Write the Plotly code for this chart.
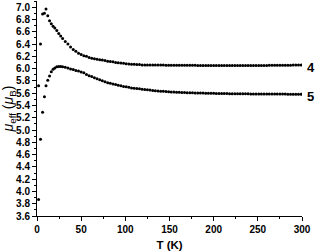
import plotly.graph_objects as go

T = [1.8, 4.0, 6.3, 8.4, 10.2, 12.2, 14.2, 16.2, 18.2, 20.2, 22.4, 24.6, 26.8, 29.0,
     32, 35, 38, 41, 44, 47, 50, 53, 56, 59, 62, 65, 68, 71, 74, 77, 80, 83, 86, 89,
     92, 95, 98, 101, 104, 107, 110, 113, 116, 119, 122, 125, 128, 131, 134, 137, 140,
     143, 146, 149, 152, 155, 158, 161, 164, 167, 170, 173, 176, 179, 182, 185, 188,
     191, 194, 197, 200, 203, 206, 209, 212, 215, 218, 221, 224, 227, 230, 233, 236,
     239, 242, 245, 248, 251, 254, 257, 260, 263, 266, 269, 272, 275, 278, 281, 284,
     287, 290, 293, 296, 299]

mu_4 = [5.72, 6.40, 6.89, 6.90, 6.97, 6.86, 6.78, 6.73, 6.69, 6.66, 6.62, 6.57, 6.53, 6.49,
        6.44, 6.40, 6.35, 6.31, 6.28, 6.25, 6.23, 6.21, 6.20, 6.18, 6.17, 6.16, 6.15, 6.145,
        6.14, 6.13, 6.12, 6.115, 6.11, 6.10, 6.095, 6.09, 6.085, 6.08, 6.075, 6.07, 6.07,
        6.065, 6.065, 6.06, 6.06, 6.06, 6.06, 6.058, 6.058, 6.058, 6.057, 6.057, 6.056,
        6.056, 6.056, 6.055, 6.055, 6.055, 6.054, 6.054, 6.054, 6.053, 6.053, 6.053, 6.052,
        6.052, 6.052, 6.051, 6.051, 6.051, 6.050, 6.050, 6.050, 6.050, 6.050, 6.050, 6.050,
        6.050, 6.050, 6.050, 6.050, 6.050, 6.050, 6.050, 6.050, 6.051, 6.051, 6.051, 6.052,
        6.052, 6.052, 6.053, 6.053, 6.053, 6.054, 6.054, 6.055, 6.055, 6.056, 6.056, 6.057,
        6.057, 6.058, 6.058]

mu_5 = [3.87, 4.85, 5.29, 5.54, 5.72, 5.81, 5.88, 5.95, 5.99, 6.01, 6.03, 6.035, 6.035, 6.03,
        6.02, 6.01, 5.995, 5.985, 5.97, 5.96, 5.945, 5.93, 5.905, 5.885, 5.87, 5.85, 5.835,
        5.82, 5.80, 5.785, 5.77, 5.76, 5.75, 5.74, 5.73, 5.72, 5.71, 5.705, 5.695, 5.685,
        5.68, 5.675, 5.67, 5.665, 5.66, 5.655, 5.65, 5.645, 5.64, 5.636, 5.632, 5.629,
        5.626, 5.623, 5.62, 5.618, 5.616, 5.614, 5.612, 5.61, 5.608, 5.606, 5.605, 5.604,
        5.603, 5.602, 5.601, 5.600, 5.599, 5.598, 5.597, 5.596, 5.595, 5.594, 5.594, 5.593,
        5.592, 5.592, 5.591, 5.591, 5.590, 5.590, 5.589, 5.589, 5.588, 5.588, 5.588, 5.587,
        5.587, 5.587, 5.586, 5.586, 5.586, 5.586, 5.585, 5.585, 5.585, 5.585, 5.584, 5.584,
        5.584, 5.584, 5.584, 5.584]

series_labels = ["4", "5"]

x_ticks = [0, 50, 100, 150, 200, 250, 300]
y_ticks = [3.6, 3.8, 4.0, 4.2, 4.4, 4.6, 4.8, 5.0, 5.2, 5.4, 5.6, 5.8, 6.0, 6.2, 6.4, 6.6, 6.8, 7.0]

FONT = "Liberation Sans, Arial, sans-serif"

fig = go.Figure()
for mu in (mu_4, mu_5):
    fig.add_trace(go.Scatter(
        x=T, y=mu, mode="markers",
        marker=dict(color="black", size=3, line=dict(width=0)),
        showlegend=False, hoverinfo="skip",
    ))

for lab, mu in zip(series_labels, (mu_4, mu_5)):
    fig.add_annotation(
        x=1.0, xref="paper", y=mu[-1], yref="y",
        text="<b>%s</b>" % lab, showarrow=False,
        xanchor="left", yanchor="middle", xshift=3, yshift=-2,
        font=dict(family=FONT, size=13, color="black"),
    )

fig.update_xaxes(
    range=[0, 300], tickvals=x_ticks, ticktext=[str(v) for v in x_ticks],
    showline=True, linecolor="black", linewidth=1, mirror=False,
    ticks="outside", ticklen=4, tickwidth=1, tickcolor="black",
    minor=dict(dtick=25, ticks="outside", ticklen=2, tickcolor="black", tickwidth=1),
    showgrid=False, zeroline=False,
    tickfont=dict(family=FONT, size=10, color="black", weight="bold"),
    title=dict(text="<b>T (K)</b>", font=dict(family=FONT, size=11.5, color="black"), standoff=6),
)
fig.update_yaxes(
    range=[3.6, 7.1], tickvals=y_ticks, ticktext=["%.1f" % v for v in y_ticks],
    showline=True, linecolor="black", linewidth=1, mirror=False,
    ticks="outside", ticklen=4, tickwidth=1, tickcolor="black",
    minor=dict(dtick=0.1, ticks="outside", ticklen=2, tickcolor="black", tickwidth=1),
    showgrid=False, zeroline=False,
    tickfont=dict(family=FONT, size=10, color="black", weight="bold"),
    title=dict(text="<i>μ</i><sub>eff</sub> (<i>μ</i><sub>B</sub>)",
               font=dict(family=FONT, size=14, color="black"), standoff=2),
)

fig.update_layout(
    width=318, height=252,
    margin=dict(l=37, r=16, t=1, b=36, pad=0),
    paper_bgcolor="white", plot_bgcolor="white",
)

fig.write_html("out.html", config={"displayModeBar": False},
               post_script="document.body.style.margin='0';document.body.style.overflow='hidden';")
